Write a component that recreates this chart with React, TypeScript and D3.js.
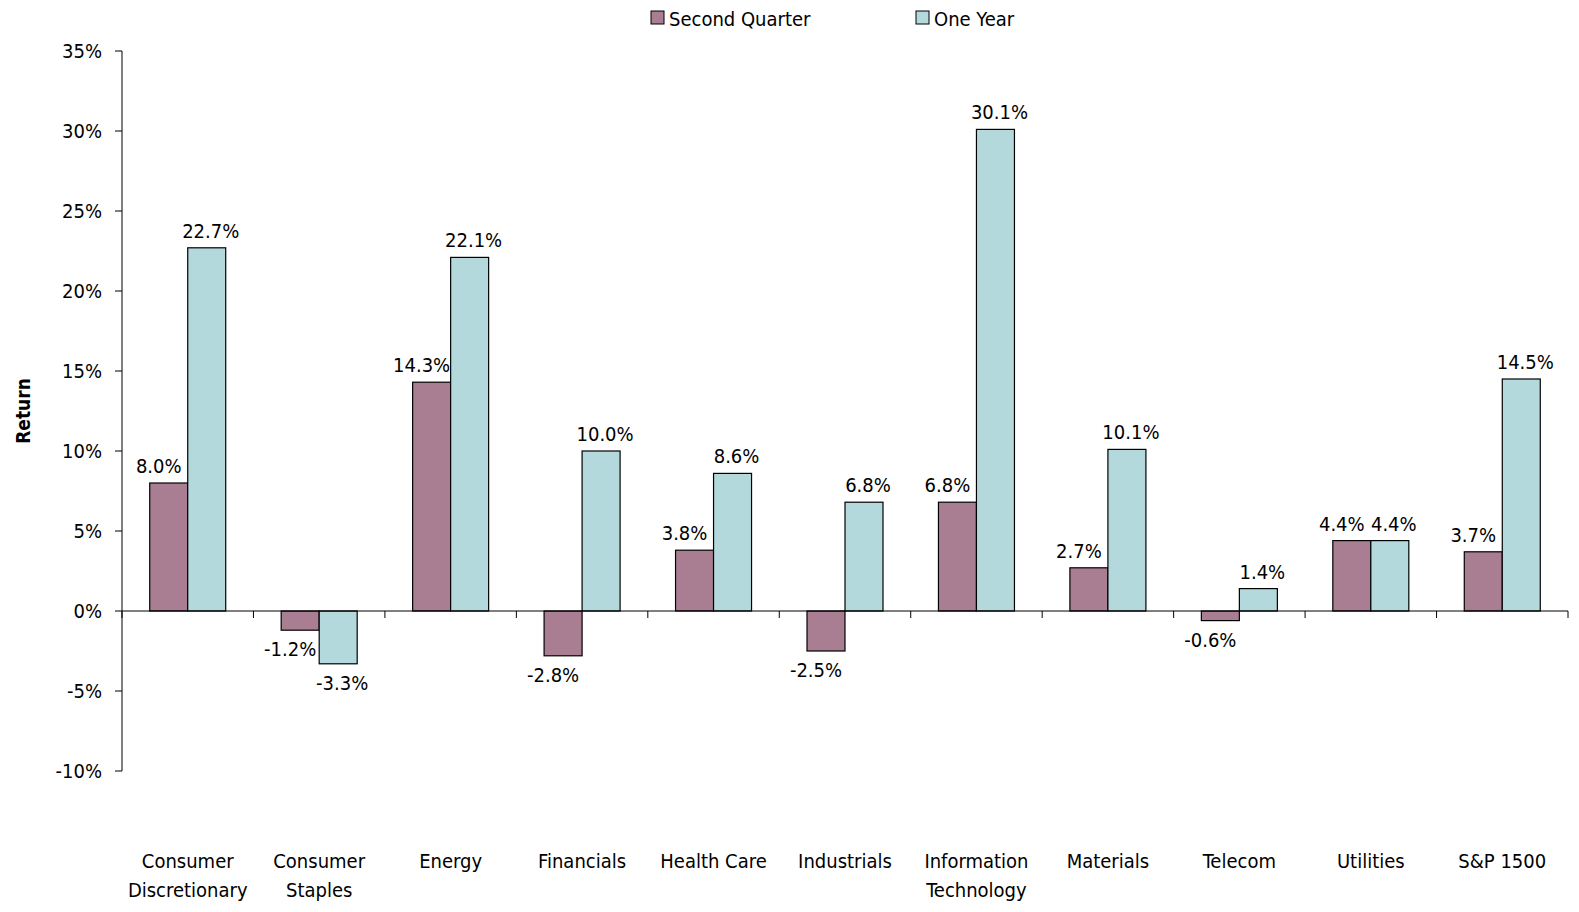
import React from 'react';
import * as d3 from 'd3';

const categories = [
  ['Consumer', 'Discretionary'], ['Consumer', 'Staples'], ['Energy'], ['Financials'], ['Health Care'],
  ['Industrials'], ['Information', 'Technology'], ['Materials'], ['Telecom'], ['Utilities'], ['S&P 1500'],
];
const secondQuarter = [8.0, -1.2, 14.3, -2.8, 3.8, -2.5, 6.8, 2.7, -0.6, 4.4, 3.7];
const oneYear = [22.7, -3.3, 22.1, 10.0, 8.6, 6.8, 30.1, 10.1, 1.4, 4.4, 14.5];
const yTicks = [-10, -5, 0, 5, 10, 15, 20, 25, 30, 35];
const seriesNames = ['Second Quarter', 'One Year'];
const colors = ['#a97e93', '#b3d9dd'];

export default function App() {
  const W = 1579, H = 912;
  const left = 122, right = 1568, top = 51, bottom = 771;
  const y = d3.scaleLinear().domain([-10, 35]).range([bottom, top]);
  const x = d3.scaleBand<number>().domain(d3.range(categories.length)).range([left, right]);
  const bw = 38;
  const font = '"DejaVu Sans Condensed", "Liberation Sans Narrow", sans-serif';
  const fmt = (v: number) => v.toFixed(1) + '%';
  return (
    <svg width={W} height={H} style={{ position: 'absolute', left: 0, top: 0, fontFamily: font }}>
      <line x1={left} x2={left} y1={top} y2={bottom} stroke="#000" />
      {yTicks.map(t => (
        <g key={t}>
          <line x1={left - 7} x2={left} y1={y(t)} y2={y(t)} stroke="#000" />
          <text x={left - 20} y={y(t)} dy="0.35em" textAnchor="end" fontSize={20}>{t}%</text>
        </g>
      ))}
      <text transform={`translate(30,${y(12.5)}) rotate(-90)`} textAnchor="middle" fontSize={19} fontWeight="bold">Return</text>
      {categories.map((c, i) => {
        const cx = x(i)! + x.bandwidth() / 2;
        const vals = [secondQuarter[i], oneYear[i]];
        return (
          <g key={i}>
            {vals.map((v, s) => {
              const bx = cx - bw + s * bw;
              const y0 = y(Math.max(0, v)), y1 = y(Math.min(0, v));
              const ly = v >= 0 ? y0 - 10 : y1 + 26;
              const off = s === 0 ? -10 : 4;
              return (
                <g key={s}>
                  <rect x={bx} y={y0} width={bw} height={y1 - y0} fill={colors[s]} stroke="#000" strokeWidth={1.2} />
                  <text x={bx + bw / 2 + off} y={ly} textAnchor="middle" fontSize={20}>{fmt(v)}</text>
                </g>
              );
            })}
            {c.map((l, k) => (
              <text key={k} x={cx} y={868 + k * 29} textAnchor="middle" fontSize={20}>{l}</text>
            ))}
          </g>
        );
      })}
      <line x1={left} x2={right} y1={y(0)} y2={y(0)} stroke="#000" />
      {d3.range(categories.length + 1).map(i => {
        const tx = left + i * x.step();
        return <line key={i} x1={tx} x2={tx} y1={y(0)} y2={y(0) + 7} stroke="#000" />;
      })}
      {seriesNames.map((n, s) => {
        const lx = [651, 916][s];
        return (
          <g key={n}>
            <rect x={lx} y={11} width={13} height={13} fill={colors[s]} stroke="#000" />
            <text x={lx + 18} y={26} fontSize={20}>{n}</text>
          </g>
        );
      })}
    </svg>
  );
}
